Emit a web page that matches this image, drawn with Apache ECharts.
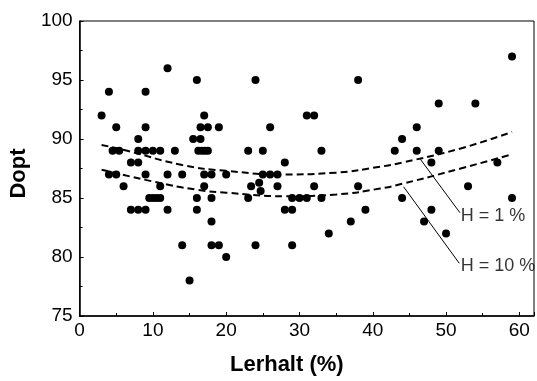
<!DOCTYPE html>
<html>
<head>
<meta charset="utf-8">
<style>html,body{margin:0;padding:0;background:#fff;}#c{width:537px;height:381px;}</style>
<script src="https://cdn.jsdelivr.net/npm/echarts@6/dist/echarts.min.js"></script>
</head>
<body>
<div id="c"></div>
<script>
// Scatter data: Lerhalt (%) vs Dopt
var dotsX = [3,4,5,4.5,5.4,4,5,6,8,7,8,
  8,9,10,11,13,
  9,9,9,11,12,14,
  7,8,9,9.5,10,10.5,11,12,12,16,17,
  16.5,17.5,19,15.5,16.5,
  16.2,16.7,17.1,17.5,
  17,18,20,17,16,18,16,18,14,18,19,20,15,
  24,38,31,32,26,23,25,33,28,25,26,27,
  23.4,24.5,24.7,27,32,38,23,29,30,31,33,28,29,39,37,34,24,29,
  59,49,54,46,44,43,46,49,48,57,53,44,59,48,47,50];
var dotsY = [92,94,91,89,89,87,87,86,90,88,88,
  89,89,89,89,89,
  94,91,87,86,87,87,
  84,84,84,85,85,85,85,84,96,95,92,
  91,91,91,90,90,
  89,89,89,89,
  87,87,87,86,85,85,84,83,81,81,81,80,78,
  95,95,92,92,91,89,89,89,88,87,87,87,
  86,86.3,85.6,86,86,86,85,85,85,85,85,84,84,84,83,82,81,81,
  97,93,93,91,90,89,89,89,88,88,86,85,85,84,83,82];
// Dashed curves
var curve1X = [3,6.5,14,20,28,35,41,44,52,59];
var curve1Y = [89.5,89.0,87.8,87.3,87.0,87.15,87.65,88.0,89.2,90.6];
var curve2X = [3,10,16,20,28,35,41,44,52,59];
var curve2Y = [87.4,86.4,85.7,85.45,85.15,85.3,85.8,86.2,87.5,88.7];
// Annotations
var labelNames = ['H = 1 %','H = 10 %'];
var leader1X = [46.5,51.9], leader1Y = [88.28,83.75];
var leader2X = [44.2,51.8], leader2Y = [85.96,79.47];
var labelX = [52.0,52.0], labelY = [83.47,79.2];
var xTicks = [0,10,20,30,40,50,60];
var yTicks = [75,80,85,90,95,100];

function zip(a,b){return a.map(function(v,i){return [v,b[i]];});}

var chart = echarts.init(document.getElementById('c'), null, {renderer:'canvas'});
var font = '"Liberation Sans", Arial, sans-serif';
chart.setOption({
  animation:false,
  grid:{left:75,right:2,top:21,bottom:65,show:true,borderColor:'#000',borderWidth:1,backgroundColor:'transparent'},
  xAxis:{type:'value',min:0,max:62,interval:10,
    name:'Lerhalt (%)',nameLocation:'middle',nameGap:38,
    nameTextStyle:{fontFamily:font,fontSize:22,fontWeight:'bold',color:'#000',padding:[0,40,0,0]},
    axisLine:{lineStyle:{color:'#000',width:1.5}},
    axisTick:{inside:true,length:4,lineStyle:{color:'#000'}},
    minorTick:{show:true,splitNumber:2,length:3,lineStyle:{color:'#000'}},
    splitLine:{show:false},
    axisLabel:{fontFamily:font,fontSize:19,color:'#000',margin:5,
      formatter:function(v){return xTicks.indexOf(v)>=0?String(v):'';}}
  },
  yAxis:{type:'value',min:75,max:100,interval:5,
    name:'Dopt',nameLocation:'middle',nameGap:48,
    nameTextStyle:{fontFamily:font,fontSize:22,fontWeight:'bold',color:'#000',padding:[0,10,0,0]},
    axisLine:{lineStyle:{color:'#000',width:1.5}},
    axisTick:{inside:true,length:4,lineStyle:{color:'#000'}},
    minorTick:{show:true,splitNumber:2,length:3,lineStyle:{color:'#000'}},
    splitLine:{show:false},
    axisLabel:{fontFamily:font,fontSize:19,color:'#000',margin:7,
      formatter:function(v){return yTicks.indexOf(v)>=0?String(v):'';}}
  },
  series:[
    {type:'line',data:zip(curve1X,curve1Y),smooth:true,symbol:'none',silent:true,
      lineStyle:{color:'#000',width:2,type:[7,4]}},
    {type:'line',data:zip(curve2X,curve2Y),smooth:true,symbol:'none',silent:true,
      lineStyle:{color:'#000',width:2,type:[7,4]}},
    {type:'scatter',data:zip(dotsX,dotsY),symbol:'circle',symbolSize:8,
      itemStyle:{color:'#000',opacity:1}},
    {type:'line',data:zip(leader1X,leader1Y),symbol:'none',silent:true,lineStyle:{color:'#000',width:1}},
    {type:'line',data:zip(leader2X,leader2Y),symbol:'none',silent:true,lineStyle:{color:'#000',width:1}},
    {type:'scatter',symbolSize:0,silent:true,
      data:labelNames.map(function(n,i){return {name:n,value:[labelX[i],labelY[i]]};}),
      label:{show:true,position:'right',distance:0,formatter:'{b}',fontFamily:font,fontSize:18,color:'#000'}}
  ]
});
</script>
</body>
</html>
